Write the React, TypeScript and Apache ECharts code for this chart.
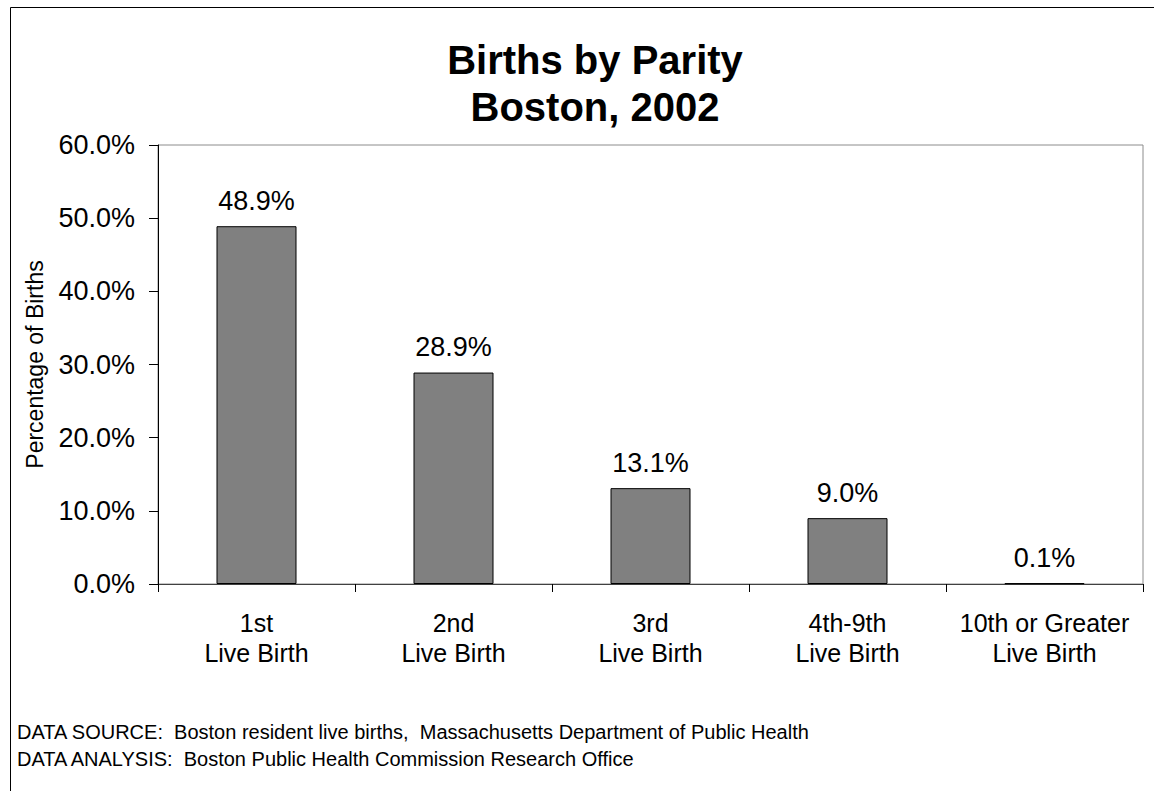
import React, { useEffect, useRef } from "react";
import * as echarts from "echarts";

const categories = ["1st\nLive Birth", "2nd\nLive Birth", "3rd\nLive Birth", "4th-9th\nLive Birth", "10th or Greater\nLive Birth"];
const percentages = [48.9, 28.9, 13.1, 9.0, 0.1];
const titleLines = ["Births by Parity", "Boston, 2002"];
const yAxisName = "Percentage of Births";
const footnotes = [
  "DATA SOURCE:  Boston resident live births,  Massachusetts Department of Public Health",
  "DATA ANALYSIS:  Boston Public Health Commission Research Office",
];

const FONT = '"Liberation Sans", Arial, sans-serif';

export default function App() {
  const ref = useRef<HTMLDivElement>(null);
  useEffect(() => {
    if (!ref.current) return;
    const chart = echarts.init(ref.current, null, { renderer: "svg" });
    chart.setOption({
      animation: false,
      backgroundColor: "#ffffff",
      textStyle: { fontFamily: FONT },
      title: {
        text: titleLines.join("\n"),
        left: 590,
        top: 31,
        textAlign: "center",
        textStyle: { fontFamily: FONT, fontSize: 40, fontWeight: "bold", color: "#000", lineHeight: 47 },
      },
      grid: {
        left: 158,
        top: 145,
        right: 11,
        bottom: 207,
        show: true,
        borderColor: "#8c8c8c",
        borderWidth: 1,
        backgroundColor: "transparent",
      },
      xAxis: {
        type: "category",
        data: categories,
        boundaryGap: true,
        axisLine: { show: true, lineStyle: { color: "#404040", width: 1 } },
        axisTick: { show: true, length: 8, inside: false, alignWithLabel: false, lineStyle: { color: "#000" } },
        axisLabel: { fontFamily: FONT, fontSize: 25, color: "#000", margin: 24, lineHeight: 30, interval: 0 },
        splitLine: { show: false },
      },
      yAxis: {
        type: "value",
        min: 0,
        max: 60,
        interval: 10,
        name: yAxisName,
        nameLocation: "middle",
        nameRotate: 90,
        nameGap: 112,
        nameTextStyle: { fontFamily: FONT, fontSize: 23, color: "#000" },
        axisLine: { show: true, lineStyle: { color: "#000", width: 1 } },
        axisTick: { show: true, length: 9, inside: false, lineStyle: { color: "#000" } },
        axisLabel: {
          fontFamily: FONT,
          fontSize: 27,
          color: "#000",
          margin: 23,
          formatter: (v: number) => v.toFixed(1) + "%",
        },
        splitLine: { show: false },
      },
      series: [
        {
          type: "bar",
          data: percentages,
          barWidth: 80,
          itemStyle: { color: "#808080", borderColor: "#000", borderWidth: 1 },
          label: {
            show: true,
            position: "top",
            distance: 12,
            fontFamily: FONT,
            fontSize: 27,
            color: "#000",
            formatter: (p: any) => Number(p.value).toFixed(1) + "%",
          },
        },
      ],
      graphic: [
        {
          type: "rect",
          shape: { x: 10.5, y: 7.5, width: 1300, height: 1000 },
          style: { fill: "none", stroke: "#000", lineWidth: 1 },
          silent: true,
          z: -1,
        },
        ...footnotes.map((t, i) => ({
          type: "text",
          left: 17,
          top: 722 + i * 27,
          style: { text: t, fontFamily: FONT, fontSize: 20, fill: "#000" },
        })),
      ],
    });
    return () => chart.dispose();
  }, []);
  return (
    <div
      ref={ref}
      style={{ position: "absolute", left: 0, top: 0, width: 1154, height: 791 }}
    />
  );
}
